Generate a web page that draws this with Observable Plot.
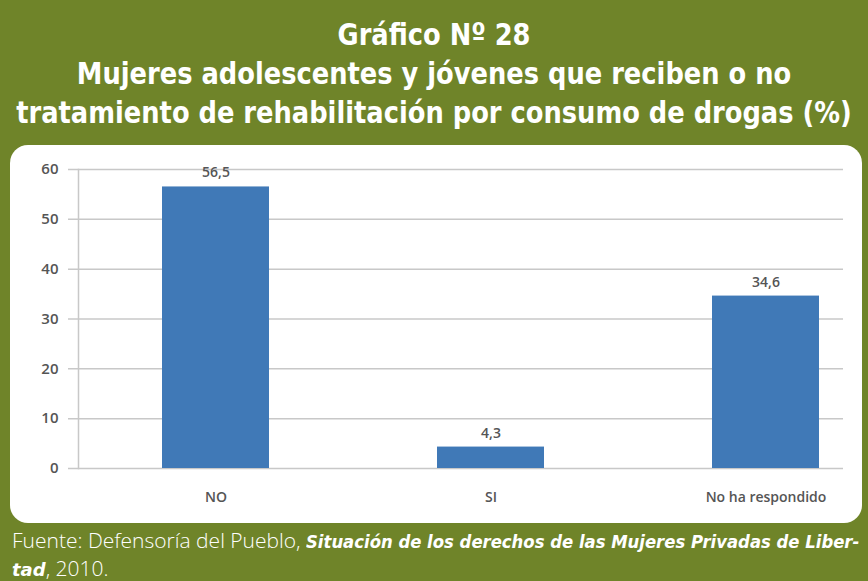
<!DOCTYPE html>
<html><head><meta charset="utf-8">
<script src="https://cdn.jsdelivr.net/npm/d3@7"></script>
<script src="https://cdn.jsdelivr.net/npm/@observablehq/plot@0.6"></script>
<style>
html,body{margin:0;padding:0;}
body{width:868px;height:581px;background:#6f8429;position:relative;overflow:hidden;font-family:"DejaVu Sans",sans-serif;}
#title{position:absolute;left:-166px;top:15px;width:1200px;text-align:center;color:#fff;font-weight:bold;}
#title div{font-size:31px;line-height:39px;white-space:nowrap;transform:scaleX(0.83);transform-origin:50% 50%;}
#panel{position:absolute;left:10px;top:145px;width:852px;height:378px;background:#fff;border-radius:18px;overflow:hidden;}
#caption{position:absolute;left:12px;top:527px;width:1000px;color:#fff;font-size:21px;line-height:27px;font-family:"Open Sans",sans-serif;font-weight:300;white-space:nowrap;}
#caption b{font-style:italic;font-weight:bold;font-family:"DejaVu Sans",sans-serif;font-size:18px;}
#caption b.sq{display:inline-block;transform:scaleX(0.915);transform-origin:0 50%;}
</style></head>
<body>
<div id="title"><div>Gráfico Nº 28</div><div>Mujeres adolescentes y jóvenes que reciben o no</div><div>tratamiento de rehabilitación por consumo de drogas (%)</div></div>
<div id="panel"></div>
<div id="caption"><div>Fuente: Defensoría del Pueblo, <b class="sq">Situación de los derechos de las Mujeres Privadas de Liber-</b></div><div><b>tad</b>, 2010.</div></div>
<script>
const categories = ["NO", "SI", "No ha respondido"];
const values = [56.5, 4.3, 34.6];
const yTicks = [0, 10, 20, 30, 40, 50, 60];
const data = categories.map((c, i) => ({cat: c, val: values[i]}));
const fmt = v => String(v).replace(".", ",");

const chart = Plot.plot({
  width: 852,
  height: 378,
  marginLeft: 68,
  marginRight: 19,
  marginTop: 24,
  marginBottom: 55,
  style: {fontFamily: "'Open Sans', sans-serif", background: "transparent"},
  x: {domain: categories, range: [68, 894], paddingInner: 0.61, paddingOuter: 0.305, align: 0.5, axis: null},
  y: {domain: [0, 60], axis: null},
  marks: [
    Plot.gridY(yTicks, {stroke: "#c8c8c8", strokeOpacity: 1, strokeWidth: 1.5}),
    Plot.axisY(yTicks, {tickSize: 10, tickPadding: 10, stroke: "#c8c8c8", strokeWidth: 1.5, fill: "#555", fontSize: 15, fontWeight: 600, label: null}),
    Plot.frame({anchor: "left", stroke: "#c8c8c8", strokeWidth: 1.5}),
    Plot.barY(data, {x: "cat", y: "val", fill: "#4079b7"}),
    Plot.text(data, {x: "cat", y: "val", text: d => fmt(d.val), dy: -14, fill: "#555", fontSize: 14, fontWeight: 600}),
    Plot.axisX(categories, {tickSize: 0, tickPadding: 24, fill: "#555", fontSize: 14, fontWeight: 600, label: null, style: "letter-spacing:1.6px"})
  ]
});
document.getElementById("panel").appendChild(chart);
</script>
</body></html>
